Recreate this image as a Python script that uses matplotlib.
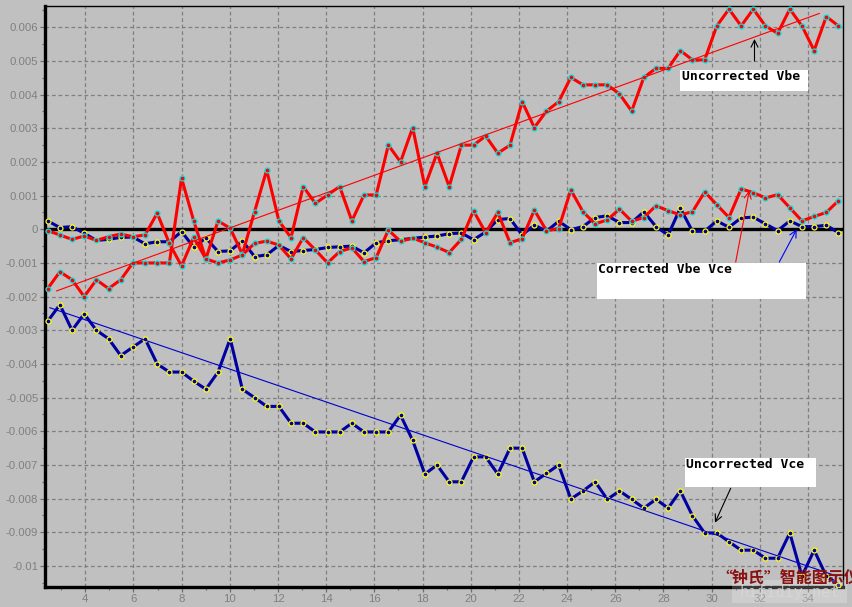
import numpy as np
import matplotlib
matplotlib.use("Agg")
import matplotlib.pyplot as plt
from matplotlib.patches import Rectangle, FancyArrowPatch
from matplotlib.ticker import MultipleLocator, FixedLocator

# ---------------- data ----------------
x = [2.440, 2.945, 3.450, 3.955, 4.460, 4.965, 5.470, 5.975, 6.480, 6.985,
     7.490, 7.995, 8.500, 9.005, 9.510, 10.015, 10.520, 11.025, 11.530, 12.035,
     12.540, 13.045, 13.550, 14.055, 14.560, 15.065, 15.570, 16.075, 16.580, 17.085,
     17.590, 18.095, 18.600, 19.105, 19.610, 20.115, 20.620, 21.125, 21.630, 22.135,
     22.640, 23.145, 23.650, 24.155, 24.660, 25.165, 25.670, 26.175, 26.680, 27.185,
     27.690, 28.195, 28.700, 29.205, 29.710, 30.215, 30.720, 31.225, 31.730, 32.235,
     32.740, 33.245, 33.750, 34.255, 34.760, 35.265]

vbe_uncorrected = [
    -0.00176, -0.00126, -0.00150, -0.00200, -0.00150, -0.00176, -0.00150, -0.00100, -0.00100, -0.00100,
    -0.00100, 0.00152, 0.00025, -0.00088, 0.00025, 0.00003, -0.00074, 0.00052, 0.00176, 0.00025,
    -0.00025, 0.00127, 0.00077, 0.00102, 0.00127, 0.00025, 0.00102, 0.00102, 0.00250, 0.00200,
    0.00302, 0.00127, 0.00226, 0.00127, 0.00250, 0.00250, 0.00277, 0.00226, 0.00250, 0.00379,
    0.00302, 0.00351, 0.00379, 0.00451, 0.00429, 0.00429, 0.00429, 0.00402, 0.00351, 0.00451,
    0.00478, 0.00478, 0.00531, 0.00503, 0.00503, 0.00604, 0.00654, 0.00604, 0.00654, 0.00604,
    0.00582, 0.00654, 0.00604, 0.00531, 0.00632, 0.00604]

vbe_corrected = [
    -0.00004, -0.00017, -0.00030, -0.00020, -0.00033, -0.00022, -0.00014, -0.00022, -0.00017, 0.00048,
    -0.00042, -0.00109, -0.00024, -0.00088, -0.00100, -0.00091, -0.00076, -0.00042, -0.00035, -0.00047,
    -0.00088, -0.00025, -0.00061, -0.00100, -0.00066, -0.00055, -0.00096, -0.00084, -0.00002, -0.00036,
    -0.00026, -0.00040, -0.00053, -0.00069, -0.00030, 0.00055, -0.00010, 0.00050, -0.00040, -0.00028,
    0.00057, -0.00004, 0.00002, 0.00117, 0.00052, 0.00016, 0.00028, 0.00060, 0.00024, 0.00035,
    0.00070, 0.00055, 0.00043, 0.00052, 0.00111, 0.00073, 0.00035, 0.00120, 0.00109, 0.00093,
    0.00103, 0.00064, 0.00025, 0.00038, 0.00050, 0.00085]

vce_corrected = [
    0.00025, 0.00005, 0.00008, -0.00012, -0.00033, -0.00030, -0.00024, -0.00023, -0.00043, -0.00037,
    -0.00037, -0.00007, -0.00053, -0.00026, -0.00066, -0.00064, -0.00034, -0.00081, -0.00076, -0.00048,
    -0.00066, -0.00063, -0.00060, -0.00054, -0.00052, -0.00050, -0.00070, -0.00040, -0.00034, -0.00031,
    -0.00027, -0.00023, -0.00020, -0.00013, -0.00011, -0.00031, -0.00008, 0.00029, 0.00032, -0.00017,
    0.00013, -0.00006, 0.00024, -0.00001, 0.00008, 0.00035, 0.00040, 0.00020, 0.00020, 0.00052,
    0.00008, -0.00017, 0.00063, -0.00006, -0.00006, 0.00025, 0.00006, 0.00034, 0.00036, 0.00016,
    -0.00004, 0.00025, 0.00008, 0.00008, 0.00012, -0.00010]

vce_uncorrected = [
    -0.00273, -0.00224, -0.00300, -0.00251, -0.00300, -0.00325, -0.00375, -0.00350, -0.00325, -0.00400,
    -0.00424, -0.00424, -0.00451, -0.00475, -0.00424, -0.00325, -0.00475, -0.00500, -0.00526, -0.00526,
    -0.00576, -0.00576, -0.00602, -0.00602, -0.00602, -0.00576, -0.00602, -0.00602, -0.00602, -0.00552,
    -0.00627, -0.00727, -0.00700, -0.00750, -0.00750, -0.00676, -0.00676, -0.00727, -0.00650, -0.00650,
    -0.00750, -0.00725, -0.00700, -0.00801, -0.00777, -0.00750, -0.00802, -0.00777, -0.00802, -0.00828,
    -0.00802, -0.00828, -0.00777, -0.00851, -0.00902, -0.00902, -0.00928, -0.00953, -0.00953, -0.00977,
    -0.00977, -0.00902, -0.01030, -0.00953, -0.01030, -0.01055]

# trend lines as drawn in the original (end points)
vbe_trend_x = [2.81, 34.47]
vbe_trend_y = [-0.00183, 0.00641]
vce_trend_x = [2.53, 35.20]
vce_trend_y = [-0.00233, -0.01030]

x_ticks = [4, 6, 8, 10, 12, 14, 16, 18, 20, 22, 24, 26, 28, 30, 32, 34]
x_tick_labels = [str(t) for t in x_ticks]
y_ticks = [0.006, 0.005, 0.004, 0.003, 0.002, 0.001, 0.0, -0.001, -0.002, -0.003,
           -0.004, -0.005, -0.006, -0.007, -0.008, -0.009, -0.01]
y_tick_labels = ["0.006", "0.005", "0.004", "0.003", "0.002", "0.001", "0", "-0.001", "-0.002",
                 "-0.003", "-0.004", "-0.005", "-0.006", "-0.007", "-0.008", "-0.009", "-0.01"]

label_vbe = "Uncorrected Vbe"
label_corr = "Corrected Vbe Vce"
label_vce = "Uncorrected Vce"
watermark = "“钟氏”智能图示仪"
watermark2 = "hifidiy.net"

# ---------------- figure ----------------
W, H = 852, 607
BG = "#c0c0c0"
fig = plt.figure(figsize=(W / 100, H / 100), dpi=100, facecolor=BG)

L, R, T, B = 45, 843.3, 6.3, 587.3
ax = fig.add_axes([L / W, 1 - B / H, (R - L) / W, (B - T) / H], facecolor=BG)
ax.set_xlim(2.327, 35.466)
ax.set_ylim(-0.010633, 0.006623)


def fx(px):
    return px / W


def fy(py):
    return 1 - py / H


ax.xaxis.set_major_locator(FixedLocator(x_ticks))
ax.yaxis.set_major_locator(FixedLocator(y_ticks))
ax.xaxis.set_minor_locator(MultipleLocator(1))
ax.yaxis.set_minor_locator(MultipleLocator(0.0005))
ax.set_xticklabels(x_tick_labels)
ax.set_yticklabels(y_tick_labels)
ax.grid(True, which="major", color="#808080", linestyle=(0, (3.0, 2.2)), linewidth=0.9, zorder=0)
ax.set_axisbelow(True)

for lab in ax.get_xticklabels() + ax.get_yticklabels():
    lab.set_fontfamily("Liberation Sans")
    lab.set_fontsize(8.2)
    lab.set_color("#808080")
ax.tick_params(which="major", direction="out", length=3.6, width=0.9, color="#707070")
ax.tick_params(which="minor", direction="out", length=2.2, width=0.9, color="#707070")
ax.tick_params(axis="y", which="major", pad=1.2)
ax.tick_params(axis="x", which="major", pad=1.0)

for side in ["left", "bottom"]:
    ax.spines[side].set_linewidth(2.4)
    ax.spines[side].set_color("black")
for side in ["top", "right"]:
    ax.spines[side].set_linewidth(1.0)
    ax.spines[side].set_color("black")

ax.axhline(0, color="black", linewidth=2.4, zorder=2)

RED = "#ff0000"
NAVY = "#0000a0"
lw = 2.2
ms = 3.6
mew = 0.9

ax.plot(x, vbe_uncorrected, color=RED, lw=lw, marker="o", ms=ms, mfc=RED, mec="#00e5e5", mew=mew, zorder=4)
ax.plot(x, vbe_corrected, color=RED, lw=lw, marker="o", ms=ms, mfc=RED, mec="#00e5e5", mew=mew, zorder=4)
ax.plot(x, vce_corrected, color=NAVY, lw=lw, marker="o", ms=ms, mfc=NAVY, mec="#ffff00", mew=mew, zorder=3)
ax.plot(x, vce_uncorrected, color=NAVY, lw=lw, marker="o", ms=ms, mfc=NAVY, mec="#ffff00", mew=mew, zorder=3)

ax.plot(vbe_trend_x, vbe_trend_y, color=RED, lw=0.8, zorder=5)
ax.plot(vce_trend_x, vce_trend_y, color="#0000cc", lw=0.8, zorder=5)

# ---------------- annotations ----------------
def box(x0, y0, x1, y1):
    fig.patches.append(Rectangle((fx(x0), fy(y1)), fx(x1) - fx(x0), fy(y0) - fy(y1),
                                 transform=fig.transFigure, facecolor="white",
                                 edgecolor="none", zorder=10))


ann_font = dict(family="DejaVu Sans Mono", weight="bold", size=9.4, color="black", zorder=11)

box(680, 70, 808, 91)
fig.text(fx(681.5), fy(76.5), label_vbe, ha="left", va="center", **ann_font)

box(596.7, 262.7, 806, 299)
fig.text(fx(597.5), fy(269.8), label_corr, ha="left", va="center", **ann_font)

box(685, 458.3, 816, 487.3)
fig.text(fx(685.5), fy(465.0), label_vce, ha="left", va="center", **ann_font)


def arrow(x0, y0, x1, y1, color):
    fig.add_artist(FancyArrowPatch(
        (fx(x0), fy(y0)), (fx(x1), fy(y1)), transform=fig.transFigure,
        arrowstyle="->,head_length=5,head_width=2.5", color=color, lw=0.8,
        shrinkA=0, shrinkB=0, zorder=12))


arrow(754.5, 61, 754.5, 39, "black")
arrow(735.7, 262, 749.3, 190.5, RED)
arrow(779.3, 262, 796.7, 229.3, "#0000ff")
arrow(730.7, 488.3, 715, 522.7, "black")

# watermark
fig.patches.append(Rectangle((fx(732), fy(603)), fx(847) - fx(732), fy(580) - fy(603),
                             transform=fig.transFigure, facecolor="white", alpha=0.22,
                             edgecolor="none", zorder=12))
fig.text(fx(790), fy(593), watermark2, ha="center", va="center", family="DejaVu Sans Mono",
         size=11, color="#d8d8d8", alpha=0.8, zorder=13)
fig.text(fx(716), fy(577.5), watermark, ha="left", va="center",
         family=["Noto Sans CJK SC", "DejaVu Sans"], weight="bold", size=11.5,
         color="#8b1010", zorder=14)

fig.savefig("out.png", dpi=100, facecolor=BG)
